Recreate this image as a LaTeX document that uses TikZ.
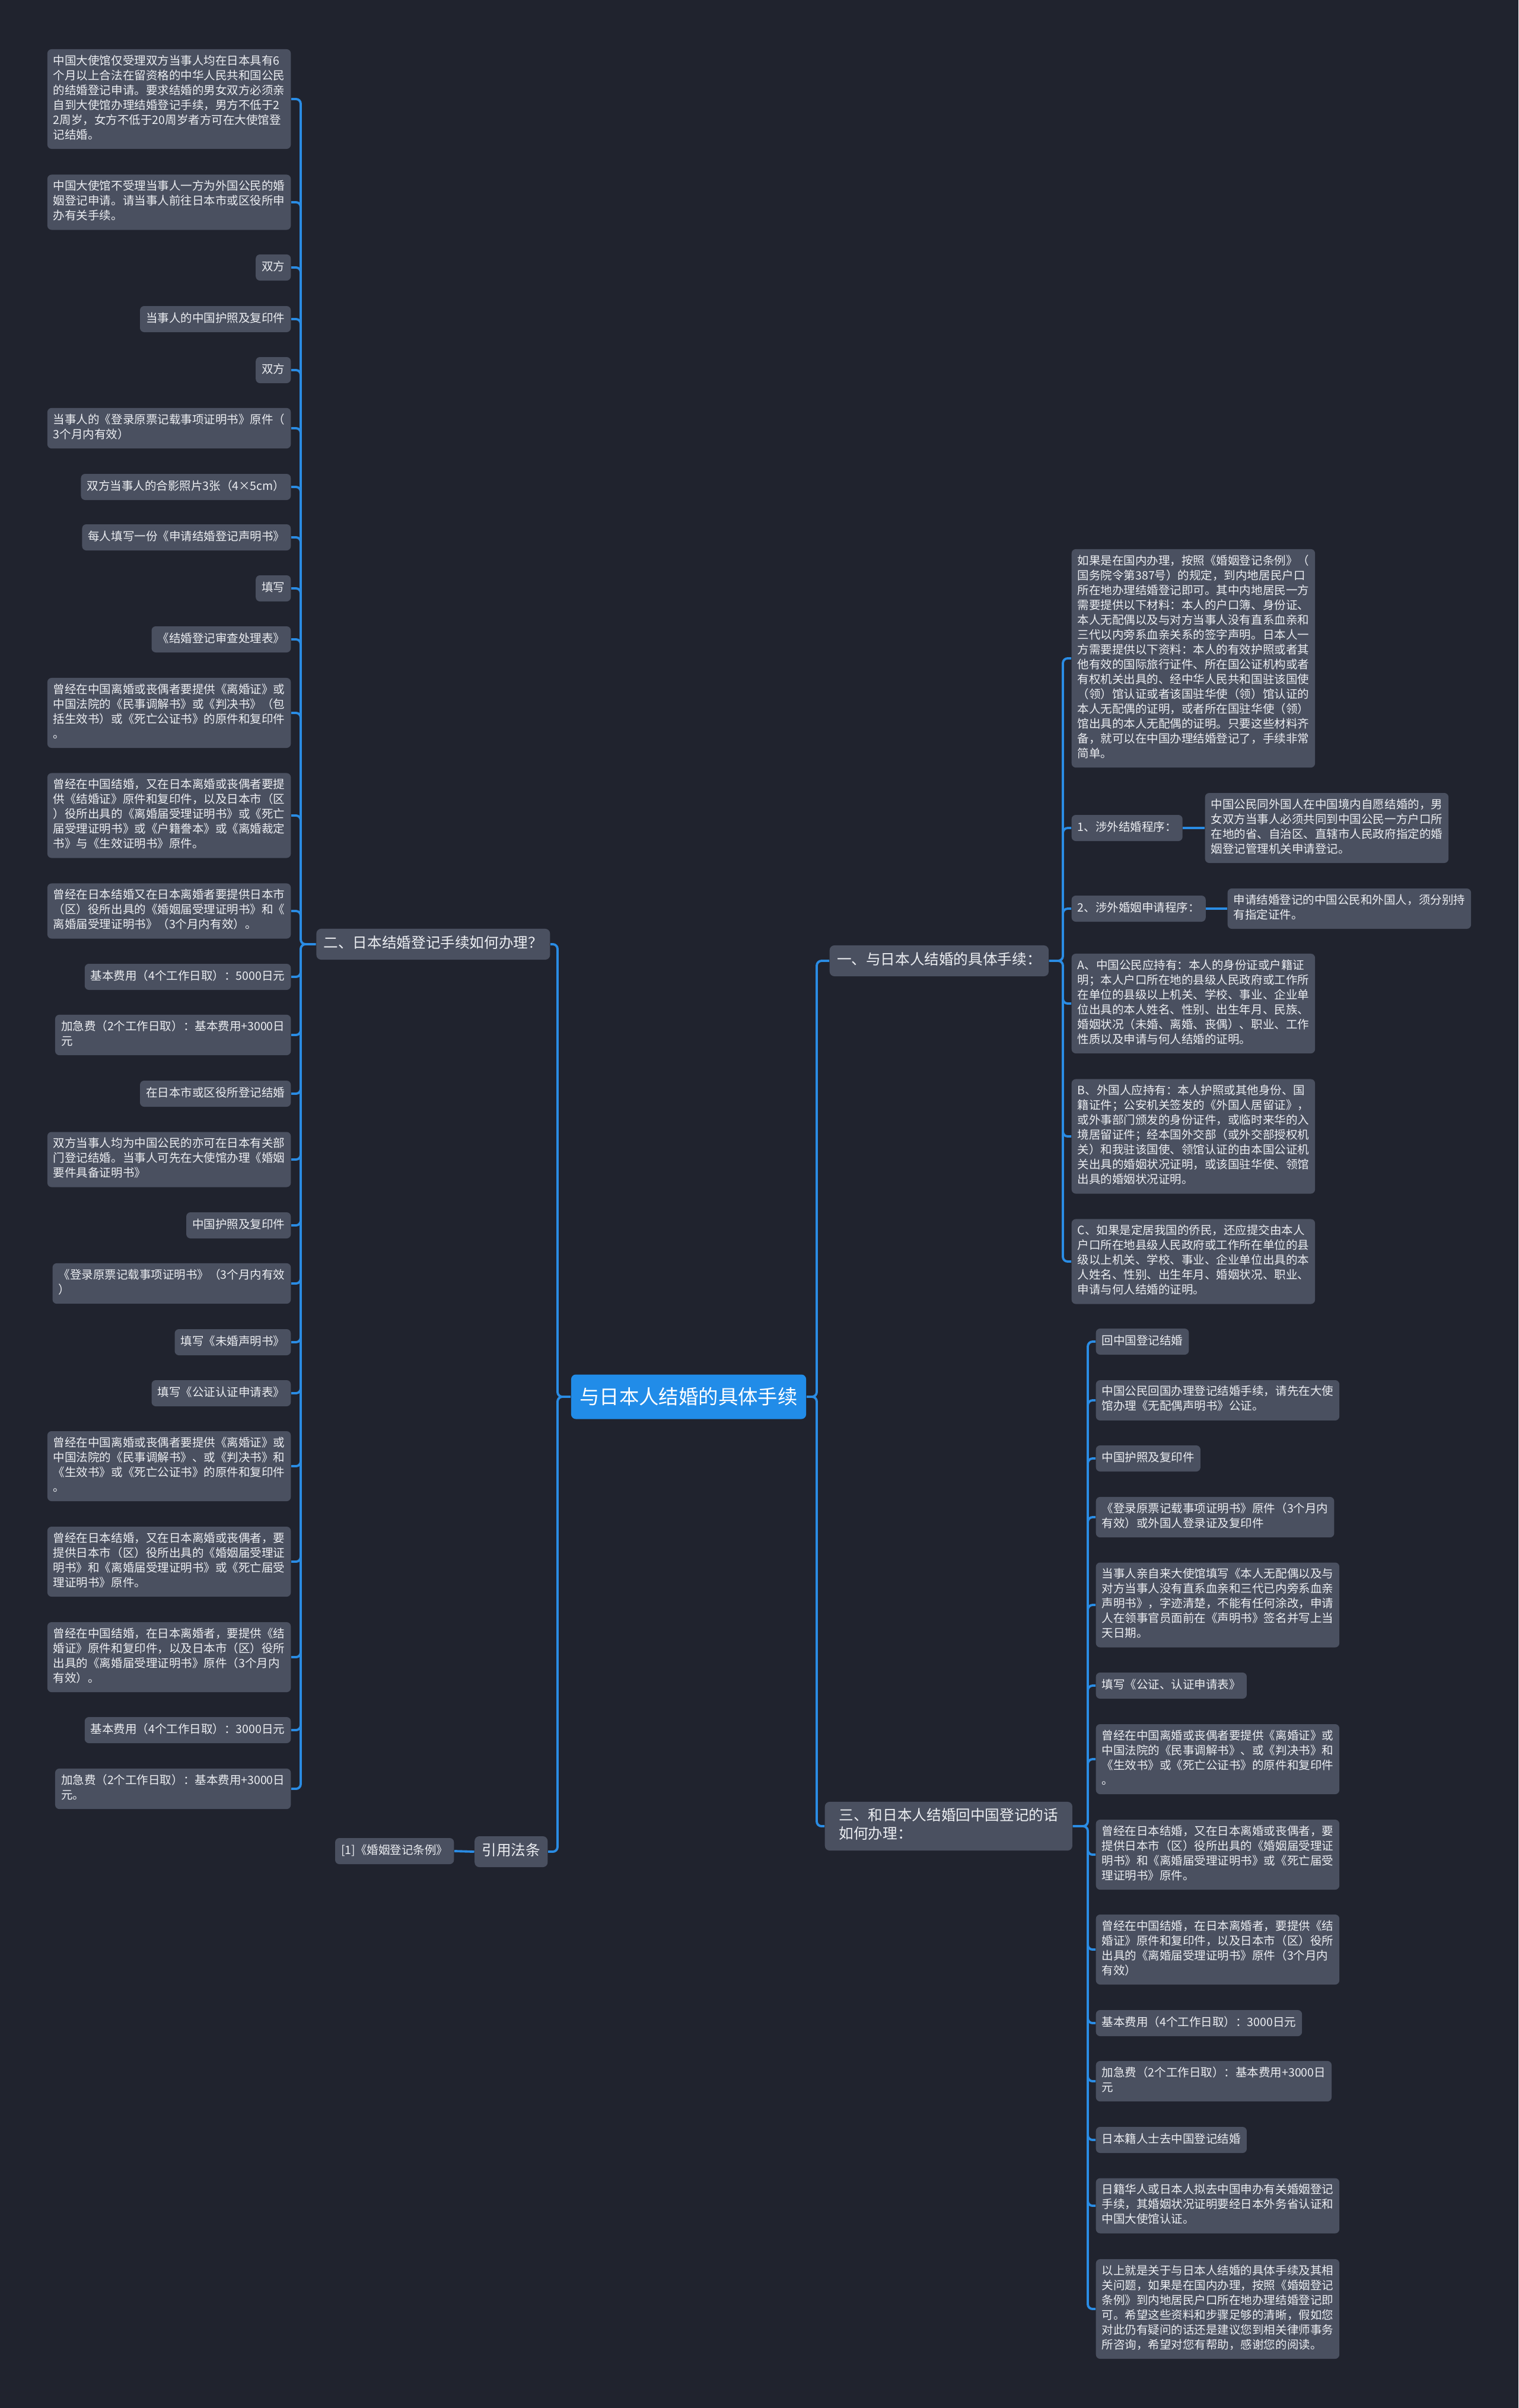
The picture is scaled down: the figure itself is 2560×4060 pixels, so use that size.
\documentclass[tikz,border=0pt]{standalone}
\usepackage{fontspec}
\setmainfont{Noto Sans CJK SC}
\usepackage{tikz}
\usetikzlibrary{positioning}
\definecolor{bgcol}{RGB}{32,35,46}
\definecolor{boxcol}{RGB}{74,80,96}
\definecolor{linecol}{RGB}{42,140,228}
\definecolor{rootcol}{RGB}{33,140,232}
\definecolor{txtcol}{RGB}{236,238,242}
\newcommand\leaffont{\fontsize{5.55pt}{7.11pt}\selectfont}
\newcommand\branchfont{\fontsize{7pt}{8.8pt}\selectfont}
\newcommand\rootfont{\fontsize{9.5pt}{12pt}\selectfont}

\begin{document}
\begin{tikzpicture}[x=0.01cm,y=-0.01cm,
  leafbox/.style={fill=boxcol,text=txtcol,rounded corners=0.07cm,align=left,font=\leaffont,
    inner xsep=2.85pt,inner ysep=2.7pt,execute at begin node=\strut,execute at end node=\strut},
  branchbox/.style={fill=boxcol,text=txtcol,rounded corners=0.08cm,align=left,font=\branchfont,
    inner xsep=3.5pt,inner ysep=3pt,execute at begin node=\strut,execute at end node=\strut},
  rootbox/.style={fill=rootcol,text=white,rounded corners=0.08cm,font=\rootfont,
    minimum width=3.96cm,minimum height=0.75cm,inner sep=0pt},
  conn/.style={draw=linecol,line width=1.1pt,rounded corners=0.08cm}]
  \useasboundingbox (0,0) rectangle (2560,4060);
  \fill[bgcol] (0,0) rectangle (2560,4060);

  \node[rootbox] (root) at (1161,2355) {与日本人结婚的具体手续};
  \node[branchbox,anchor=west] (b1) at (1398,1620) {一、与日本人结婚的具体手续：};
  \node[branchbox,anchor=east] (b2) at (928,1592) {二、日本结婚登记手续如何办理？};
  \node[branchbox,anchor=west,minimum width=4.17cm] (b3) at (1390,3079) {三、和日本人结婚回中国登记的话\\如何办理：};
  \node[branchbox,anchor=east] (b4) at (924,3122) {引用法条};
  \node[leafbox,anchor=east] (law) at (766,3121) {[1]《婚姻登记条例》};

  \coordinate (sl) at (940,2355);
  \coordinate (sr) at (1377,2355);
  \coordinate (s1) at (1792,1620);
  \coordinate (s2) at (507,1592);
  \coordinate (s3) at (1834,3079);

  \node[leafbox,anchor=east] (l1) at (491,167) {中国大使馆仅受理双方当事人均在日本具有6\\个月以上合法在留资格的中华人民共和国公民\\的结婚登记申请。要求结婚的男女双方必须亲\\自到大使馆办理结婚登记手续，男方不低于2\\2周岁，女方不低于20周岁者方可在大使馆登\\记结婚。};
  \node[leafbox,anchor=east] (l2) at (491,341) {中国大使馆不受理当事人一方为外国公民的婚\\姻登记申请。请当事人前往日本市或区役所申\\办有关手续。};
  \node[leafbox,anchor=east] (l3) at (491,451) {双方};
  \node[leafbox,anchor=east] (l4) at (491,538) {当事人的中国护照及复印件};
  \node[leafbox,anchor=east] (l5) at (491,624) {双方};
  \node[leafbox,anchor=east] (l6) at (491,722) {当事人的《登录原票记载事项证明书》原件（\\3个月内有效）};
  \node[leafbox,anchor=east] (l7) at (491,821) {双方当事人的合影照片3张（4×5cm）};
  \node[leafbox,anchor=east] (l8) at (491,906) {每人填写一份《申请结婚登记声明书》};
  \node[leafbox,anchor=east] (l9) at (491,992) {填写};
  \node[leafbox,anchor=east] (l10) at (491,1078) {《结婚登记审查处理表》};
  \node[leafbox,anchor=east] (l11) at (491,1202) {曾经在中国离婚或丧偶者要提供《离婚证》或\\中国法院的《民事调解书》或《判决书》（包\\括生效书）或《死亡公证书》的原件和复印件\\。};
  \node[leafbox,anchor=east] (l12) at (491,1375) {曾经在中国结婚，又在日本离婚或丧偶者要提\\供《结婚证》原件和复印件，以及日本市（区\\）役所出具的《离婚届受理证明书》或《死亡\\届受理证明书》或《户籍誊本》或《离婚裁定\\书》与《生效证明书》原件。};
  \node[leafbox,anchor=east] (l13) at (491,1536) {曾经在日本结婚又在日本离婚者要提供日本市\\（区）役所出具的《婚姻届受理证明书》和《\\离婚届受理证明书》（3个月内有效）。};
  \node[leafbox,anchor=east] (l14) at (491,1647) {基本费用（4个工作日取）：5000日元};
  \node[leafbox,anchor=east] (l15) at (491,1745) {加急费（2个工作日取）：基本费用+3000日\\元};
  \node[leafbox,anchor=east] (l16) at (491,1844) {在日本市或区役所登记结婚};
  \node[leafbox,anchor=east] (l17) at (491,1955) {双方当事人均为中国公民的亦可在日本有关部\\门登记结婚。当事人可先在大使馆办理《婚姻\\要件具备证明书》};
  \node[leafbox,anchor=east] (l18) at (491,2066) {中国护照及复印件};
  \node[leafbox,anchor=east] (l19) at (491,2164) {《登录原票记载事项证明书》（3个月内有效\\）};
  \node[leafbox,anchor=east] (l20) at (491,2263) {填写《未婚声明书》};
  \node[leafbox,anchor=east] (l21) at (491,2349) {填写《公证认证申请表》};
  \node[leafbox,anchor=east] (l22) at (491,2472) {曾经在中国离婚或丧偶者要提供《离婚证》或\\中国法院的《民事调解书》、或《判决书》和\\《生效书》或《死亡公证书》的原件和复印件\\。};
  \node[leafbox,anchor=east] (l23) at (491,2633) {曾经在日本结婚，又在日本离婚或丧偶者，要\\提供日本市（区）役所出具的《婚姻届受理证\\明书》和《离婚届受理证明书》或《死亡届受\\理证明书》原件。};
  \node[leafbox,anchor=east] (l24) at (491,2794) {曾经在中国结婚，在日本离婚者，要提供《结\\婚证》原件和复印件，以及日本市（区）役所\\出具的《离婚届受理证明书》原件（3个月内\\有效）。};
  \node[leafbox,anchor=east] (l25) at (491,2917) {基本费用（4个工作日取）：3000日元};
  \node[leafbox,anchor=east] (l26) at (491,3016) {加急费（2个工作日取）：基本费用+3000日\\元。};

  \node[leafbox,anchor=west] (r0) at (1806,1110) {如果是在国内办理，按照《婚姻登记条例》（\\国务院令第387号）的规定，到内地居民户口\\所在地办理结婚登记即可。其中内地居民一方\\需要提供以下材料：本人的户口簿、身份证、\\本人无配偶以及与对方当事人没有直系血亲和\\三代以内旁系血亲关系的签字声明。日本人一\\方需要提供以下资料：本人的有效护照或者其\\他有效的国际旅行证件、所在国公证机构或者\\有权机关出具的、经中华人民共和国驻该国使\\（领）馆认证或者该国驻华使（领）馆认证的\\本人无配偶的证明，或者所在国驻华使（领）\\馆出具的本人无配偶的证明。只要这些材料齐\\备，就可以在中国办理结婚登记了，手续非常\\简单。};
  \node[leafbox,anchor=west] (r1) at (1806,1396) {1、涉外结婚程序：};
  \node[leafbox,anchor=west] (r1c) at (2031,1396) {中国公民同外国人在中国境内自愿结婚的，男\\女双方当事人必须共同到中国公民一方户口所\\在地的省、自治区、直辖市人民政府指定的婚\\姻登记管理机关申请登记。};
  \node[leafbox,anchor=west] (r2) at (1806,1532) {2、涉外婚姻申请程序：};
  \node[leafbox,anchor=west] (r2c) at (2069,1532) {申请结婚登记的中国公民和外国人，须分别持\\有指定证件。};
  \node[leafbox,anchor=west] (ra) at (1806,1692) {A、中国公民应持有：本人的身份证或户籍证\\明；本人户口所在地的县级人民政府或工作所\\在单位的县级以上机关、学校、事业、企业单\\位出具的本人姓名、性别、出生年月、民族、\\婚姻状况（未婚、离婚、丧偶）、职业、工作\\性质以及申请与何人结婚的证明。};
  \node[leafbox,anchor=west] (rb) at (1806,1916) {B、外国人应持有：本人护照或其他身份、国\\籍证件；公安机关签发的《外国人居留证》，\\或外事部门颁发的身份证件，或临时来华的入\\境居留证件；经本国外交部（或外交部授权机\\关）和我驻该国使、领馆认证的由本国公证机\\关出具的婚姻状况证明，或该国驻华使、领馆\\出具的婚姻状况证明。};
  \node[leafbox,anchor=west] (rc) at (1806,2127) {C、如果是定居我国的侨民，还应提交由本人\\户口所在地县级人民政府或工作所在单位的县\\级以上机关、学校、事业、企业单位出具的本\\人姓名、性别、出生年月、婚姻状况、职业、\\申请与何人结婚的证明。};

  \node[leafbox,anchor=west] (t1) at (1847,2262) {回中国登记结婚};
  \node[leafbox,anchor=west] (t2) at (1847,2361) {中国公民回国办理登记结婚手续，请先在大使\\馆办理《无配偶声明书》公证。};
  \node[leafbox,anchor=west] (t3) at (1847,2459) {中国护照及复印件};
  \node[leafbox,anchor=west] (t4) at (1847,2558) {《登录原票记载事项证明书》原件（3个月内\\有效）或外国人登录证及复印件};
  \node[leafbox,anchor=west] (t5) at (1847,2706) {当事人亲自来大使馆填写《本人无配偶以及与\\对方当事人没有直系血亲和三代已内旁系血亲\\声明书》，字迹清楚，不能有任何涂改，申请\\人在领事官员面前在《声明书》签名并写上当\\天日期。};
  \node[leafbox,anchor=west] (t6) at (1847,2842) {填写《公证、认证申请表》};
  \node[leafbox,anchor=west] (t7) at (1847,2966) {曾经在中国离婚或丧偶者要提供《离婚证》或\\中国法院的《民事调解书》、或《判决书》和\\《生效书》或《死亡公证书》的原件和复印件\\。};
  \node[leafbox,anchor=west] (t8) at (1847,3127) {曾经在日本结婚，又在日本离婚或丧偶者，要\\提供日本市（区）役所出具的《婚姻届受理证\\明书》和《离婚届受理证明书》或《死亡届受\\理证明书》原件。};
  \node[leafbox,anchor=west] (t9) at (1847,3287) {曾经在中国结婚，在日本离婚者，要提供《结\\婚证》原件和复印件，以及日本市（区）役所\\出具的《离婚届受理证明书》原件（3个月内\\有效）};
  \node[leafbox,anchor=west] (t10) at (1847,3411) {基本费用（4个工作日取）：3000日元};
  \node[leafbox,anchor=west] (t11) at (1847,3509) {加急费（2个工作日取）：基本费用+3000日\\元};
  \node[leafbox,anchor=west] (t12) at (1847,3608) {日本籍人士去中国登记结婚};
  \node[leafbox,anchor=west] (t13) at (1847,3719) {日籍华人或日本人拟去中国申办有关婚姻登记\\手续，其婚姻状况证明要经日本外务省认证和\\中国大使馆认证。};
  \node[leafbox,anchor=west] (t14) at (1847,3893) {以上就是关于与日本人结婚的具体手续及其相\\关问题，如果是在国内办理，按照《婚姻登记\\条例》到内地居民户口所在地办理结婚登记即\\可。希望这些资料和步骤足够的清晰，假如您\\对此仍有疑问的话还是建议您到相关律师事务\\所咨询，希望对您有帮助，感谢您的阅读。};

  \draw[conn] (root.west) -- (sl) |- (b2.east) (root.west) -- (sl) |- (b4.east);
  \draw[conn] (root.east) -- (sr) |- (b1.west) (root.east) -- (sr) |- (b3.west);
  \draw[conn] (b4.west) -- (law.east);
  \draw[conn] (b1.east) -- (s1) |- (r0.west) (b1.east) -- (s1) |- (r1.west)
    (b1.east) -- (s1) |- (r2.west) (b1.east) -- (s1) |- (ra.west)
    (b1.east) -- (s1) |- (rb.west) (b1.east) -- (s1) |- (rc.west);
  \draw[conn] (r1.east) -- (r1c.west);
  \draw[conn] (r2.east) -- (r2c.west);
  \draw[conn] (b2.west) -- (s2) |- (l1.east) (b2.west) -- (s2) |- (l2.east)
    (b2.west) -- (s2) |- (l3.east) (b2.west) -- (s2) |- (l4.east)
    (b2.west) -- (s2) |- (l5.east) (b2.west) -- (s2) |- (l6.east)
    (b2.west) -- (s2) |- (l7.east) (b2.west) -- (s2) |- (l8.east)
    (b2.west) -- (s2) |- (l9.east) (b2.west) -- (s2) |- (l10.east)
    (b2.west) -- (s2) |- (l11.east) (b2.west) -- (s2) |- (l12.east)
    (b2.west) -- (s2) |- (l13.east) (b2.west) -- (s2) |- (l14.east)
    (b2.west) -- (s2) |- (l15.east) (b2.west) -- (s2) |- (l16.east)
    (b2.west) -- (s2) |- (l17.east) (b2.west) -- (s2) |- (l18.east)
    (b2.west) -- (s2) |- (l19.east) (b2.west) -- (s2) |- (l20.east)
    (b2.west) -- (s2) |- (l21.east) (b2.west) -- (s2) |- (l22.east)
    (b2.west) -- (s2) |- (l23.east) (b2.west) -- (s2) |- (l24.east)
    (b2.west) -- (s2) |- (l25.east) (b2.west) -- (s2) |- (l26.east);
  \draw[conn] (b3.east) -- (s3) |- (t1.west) (b3.east) -- (s3) |- (t2.west)
    (b3.east) -- (s3) |- (t3.west) (b3.east) -- (s3) |- (t4.west)
    (b3.east) -- (s3) |- (t5.west) (b3.east) -- (s3) |- (t6.west)
    (b3.east) -- (s3) |- (t7.west) (b3.east) -- (s3) |- (t8.west)
    (b3.east) -- (s3) |- (t9.west) (b3.east) -- (s3) |- (t10.west)
    (b3.east) -- (s3) |- (t11.west) (b3.east) -- (s3) |- (t12.west)
    (b3.east) -- (s3) |- (t13.west) (b3.east) -- (s3) |- (t14.west);
\end{tikzpicture}
\end{document}
